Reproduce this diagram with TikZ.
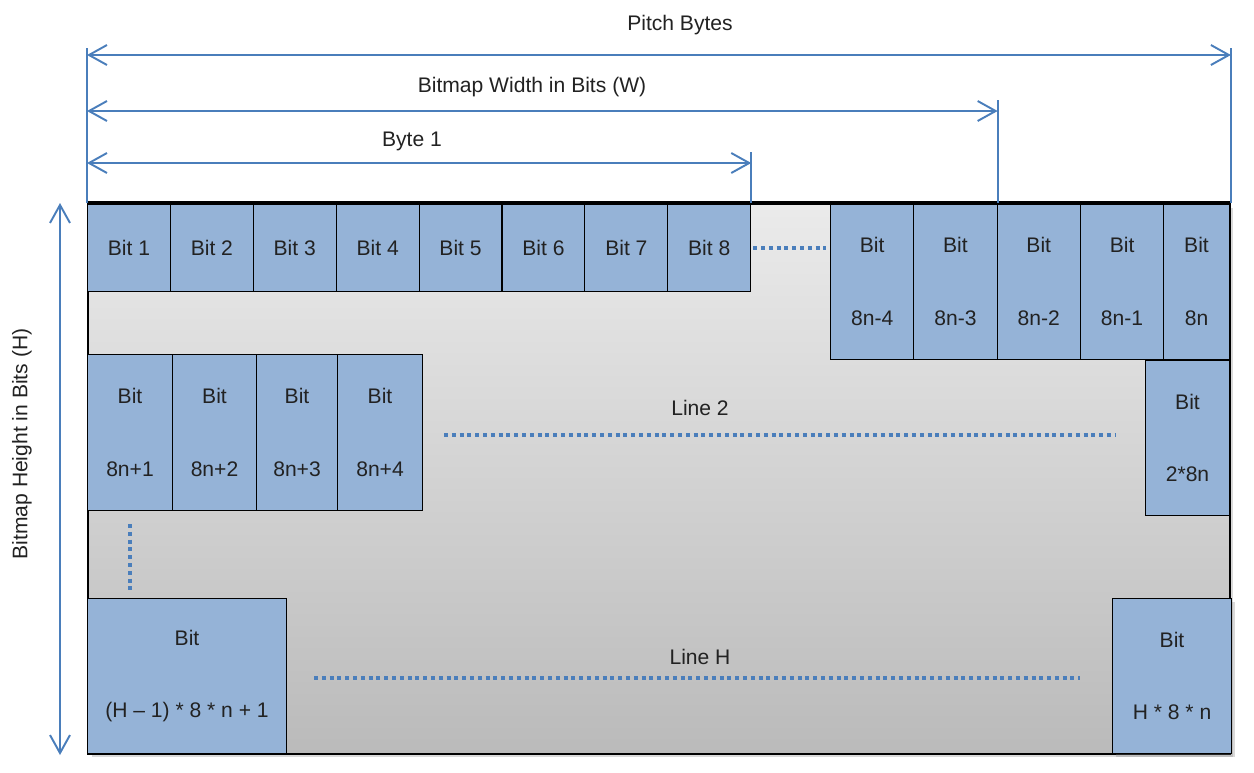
\documentclass[tikz,border=0pt]{standalone}
\usepackage{fontspec}
\setmainfont{Liberation Sans}
\usetikzlibrary{positioning, arrows.meta, calc, shadows}
\definecolor{cellblue}{HTML}{95B3D7}
\definecolor{lineblue}{HTML}{4A7EBB}
\definecolor{textgray}{HTML}{222222}

\begin{document}
\begin{tikzpicture}[x=0.02cm, y=-0.02cm, font=\fontsize{12}{41.4}\selectfont, text=textgray,
    cell/.style={draw, line width=0.6pt, fill=cellblue, inner sep=0pt, anchor=north west, align=center},
    dim/.style={lineblue, line width=1.1pt},
    dimarrow/.style={dim, {Straight Barb[length=0.36cm, width=0.4cm]}-{Straight Barb[length=0.36cm, width=0.4cm]}},
    dots/.style={lineblue, line width=0.08cm, dash pattern=on 0.08cm off 0.076cm}]
    % 1 Einheit = 1 Pixel der Vorlage (y zeigt nach unten)
    \useasboundingbox (0,0) rectangle (1254,772);

    % --- BITMAP-FLAECHE ---
    \node[draw, line width=1.2pt, inner sep=0pt, anchor=north west,
          minimum width=22.84cm, minimum height=11cm,
          top color=black!8, bottom color=black!27,
          drop shadow={shadow xshift=2pt, shadow yshift=-2pt, opacity=0.3}]
        (bitmap) at (87,203) {};

    % --- ZEILE 1 ---
    \foreach \i in {1,...,8}
        \node[cell, minimum width=1.658cm, minimum height=1.76cm] (b\i) at ({87+(\i-1)*82.9},203) {Bit \i};

    \foreach \lab [count=\i] in {8n-4,8n-3,8n-2,8n-1}
        \node[cell, minimum width=1.666cm, minimum height=3.12cm] (r\i) at ({830+(\i-1)*83.3},203) {Bit\\\lab};
    \node[cell, minimum width=1.32cm, minimum height=3.12cm] (r5) at (1163,203) {Bit\\8n};

    \draw[line width=1.8pt] (bitmap.north west) -- (bitmap.north east);

    % --- ZEILE 2 ---
    \foreach \x/\w/\lab [count=\i] in {87/1.7/8n+1, 172/1.68/8n+2, 256/1.62/8n+3, 337/1.7/8n+4}
        \node[cell, minimum width=\w cm, minimum height=3.12cm] (s\i) at (\x,354) {Bit\\\lab};
    \node[cell, minimum width=1.68cm, minimum height=3.1cm] (s8n) at (1145,360) {Bit\\2*8n};

    % --- ZEILE H ---
    \node[cell, minimum width=3.98cm, minimum height=3.1cm] (h1) at (87,598) {Bit\\(H – 1) * 8 * n + 1};
    \node[cell, minimum width=2.38cm, minimum height=3.1cm,
          drop shadow={shadow xshift=2pt, shadow yshift=-2pt, opacity=0.3}] (hn) at (1112,598) {Bit\\H * 8 * n};

    % Punktlinien
    \draw[dots, shorten <=0.04cm, shorten >=0.08cm] (b8.east) -- (b8.east -| r1.west);
    \draw[dots, shorten <=0.42cm, shorten >=0.6cm] ($(s4.east)+(0,2)$) -- ($(s4.east -| s8n.west)+(0,2)$);
    \draw[dots, shorten <=0.54cm, shorten >=0.64cm] ($(h1.east)+(0,1.5)$) -- ($(h1.east -| hn.west)+(0,1.5)$);
    \draw[dots, shorten <=0.26cm, shorten >=0.16cm] (s1.south) -- (s1.south |- h1.north);

    \node (linetwo) at (700,408) {Line 2};
    \node (lineh) at (700,657) {Line H};

    % --- BEMASSUNG ---
    \draw[dim] (bitmap.north west) -- ++(0,-155);
    \draw[dim] (bitmap.north east) -- ++(0,-155);
    \draw[dim] (r2.north east) -- ++(0,-103);
    \draw[dim] (b8.north east) -- ++(0,-51);

    \draw[dimarrow] ($(bitmap.north west)+(0,-148)$) -- ($(bitmap.north east)+(0,-148)$);
    \draw[dimarrow] ($(bitmap.north west)+(0,-92)$) -- ($(bitmap.north west -| r2.north east)+(0,-92)$);
    \draw[dimarrow] ($(bitmap.north west)+(0,-40)$) -- ($(bitmap.north west -| b8.north east)+(0,-40)$);
    \draw[dimarrow] ($(bitmap.north west)+(-27,0)$) -- ($(bitmap.south west)+(-27,0)$);

    \node (pitchlabel) at (680,25) {Pitch Bytes};
    \node (widthlabel) at (532,87) {Bitmap Width in Bits (W)};
    \node (bytelabel) at (412,141) {Byte 1};
    \node[rotate=90] (heightlabel) at (22,444) {Bitmap Height in Bits (H)};

\end{tikzpicture}
\end{document}
